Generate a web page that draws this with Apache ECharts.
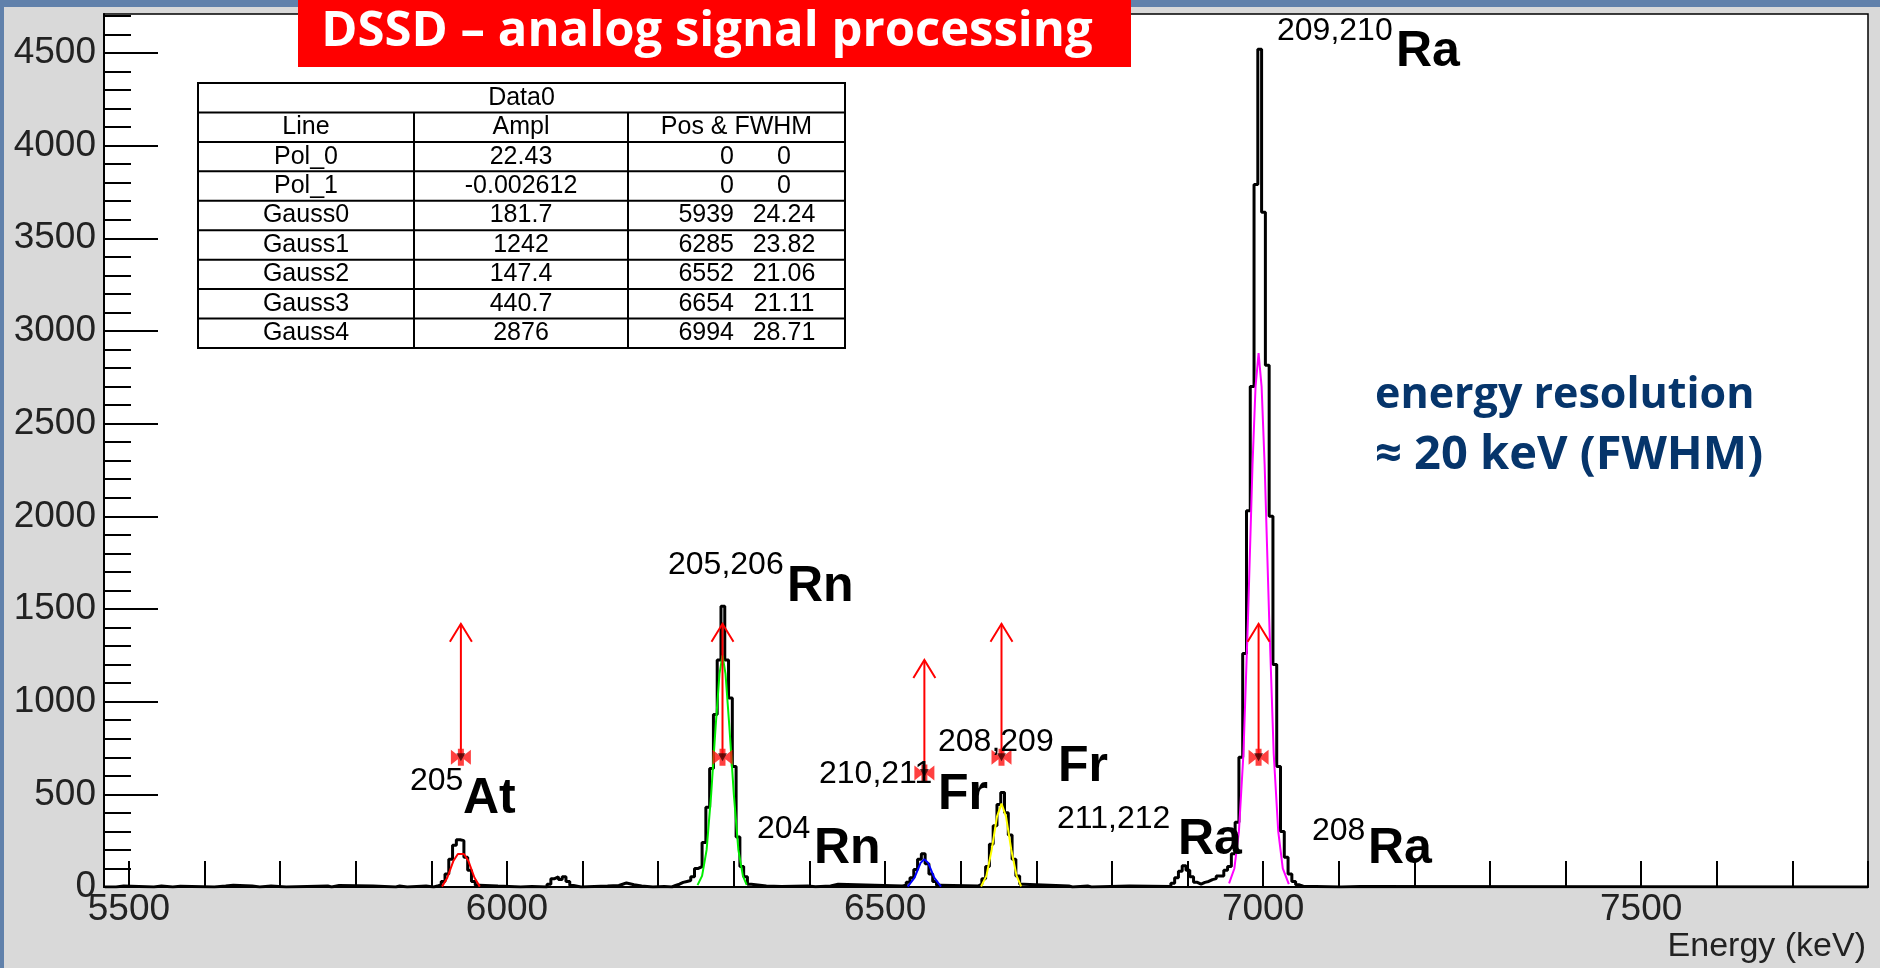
<!DOCTYPE html>
<html>
<head>
<meta charset="utf-8">
<title>DSSD – analog signal processing</title>
<script src="https://cdn.jsdelivr.net/npm/echarts@6.0.0/dist/echarts.min.js"></script>
<style>
  html, body { margin: 0; padding: 0; background: #d9d9d9; }
  #chart { width: 1880px; height: 968px; }
</style>
</head>
<body>
<div id="chart"></div>
<script>
// ---- measured spectrum (bin left edge in keV, counts per bin) ----
const histE = [
  5468, 5483, 5493, 5533, 5543, 5558, 5568, 5613, 5628, 5638, 5663, 5673, 5688,
  5708, 5763, 5768, 5778, 5823, 5853, 5858, 5868, 5893,
  5903, 5908, 5913, 5918, 5923, 5928, 5933, 5938, 5943, 5948, 5953, 5958, 5963, 5988,
  6018, 6033, 6053, 6058, 6063, 6068, 6073, 6078, 6083, 6088,
  6098, 6133, 6148, 6153, 6158, 6168, 6178, 6193, 6208,
  6218, 6223, 6228, 6233, 6238, 6243, 6248, 6253, 6258, 6263, 6268, 6273, 6278,
  6283, 6288, 6293, 6298, 6303, 6308, 6313, 6318, 6323,
  6343, 6363, 6398, 6408, 6428, 6438, 6523,
  6528, 6533, 6538, 6543, 6548, 6553, 6558, 6563, 6568, 6573,
  6623, 6628, 6633, 6638, 6643, 6648, 6653, 6658, 6663, 6668, 6673, 6678, 6683,
  6743, 6748, 6768, 6773, 6823,
  6878, 6883, 6888, 6893, 6898, 6903, 6908, 6913, 6918, 6923, 6928, 6933, 6938,
  6943, 6948, 6953, 6958, 6963, 6968, 6973, 6978, 6983, 6988, 6993, 6998, 7003,
  7008, 7013, 7018, 7023, 7028, 7033, 7038, 7043, 7048, 7053,
  7103, 7128, 7800
];
const histC = [
  0, 5, 0, 5, 0, 4, 0, 5, 10, 5, 0, 5, 0,
  5, 0, 8, 5, 0, 5, 0, 5, 0,
  5, 12, 30, 70, 150, 225, 255, 250, 160, 90, 30, 10, 5, 0,
  3, 0, 15, 45, 55, 40, 55, 30, 8, 0,
  5, 8, 15, 22, 12, 5, 0, 3, 0,
  8, 15, 25, 30, 35, 55, 100, 110, 240, 430, 640, 930, 1225,
  1515, 1225, 1020, 650, 270, 110, 55, 15, 5,
  3, 5, 2, 5, 15, 5, 10,
  25, 50, 95, 150, 180, 125, 70, 30, 10, 5,
  15, 45, 110, 230, 330, 445, 510, 400, 280, 150, 60, 15, 5,
  0, 5, 0, 5, 3,
  20, 50, 85, 115, 90, 55, 25, 15, 25, 30, 40, 45, 60,
  60, 90, 110, 180, 350, 700, 1260, 2030, 2700, 3790, 4520, 3640, 2815,
  2000, 1200, 650, 300, 160, 70, 30, 12, 4, 0,
  3, 0, 0
];

// ---- fitted peak curves (keV, counts) as drawn ----
const fitRed = [[5914, 2], [5921, 50], [5929, 140], [5935, 178], [5943, 178], [5949, 140], [5957, 50], [5964, 2]];
const fitGreen = [[6252, 10], [6258, 60], [6264, 200], [6270, 500], [6276, 870], [6281, 1150], [6285, 1250],
  [6289, 1150], [6294, 870], [6300, 500], [6306, 200], [6312, 60], [6317, 12]];
const fitBlue = [[6530, 2], [6539, 50], [6547, 130], [6552, 150], [6557, 130], [6565, 50], [6574, 2]];
const fitYellow = [[6627, 3], [6634, 60], [6641, 200], [6648, 380], [6654, 450], [6660, 380], [6667, 200], [6674, 60], [6680, 3]];
const fitMagenta = [[6955, 20], [6962, 100], [6968, 300], [6974, 720], [6980, 1450], [6986, 2280], [6990, 2700],
  [6994, 2880], [6998, 2700], [7002, 2280], [7008, 1450], [7014, 720], [7020, 300], [7026, 100], [7034, 15]];

// ---- peak markers: position, marker height, arrow tip ----
const arrowE = [5939, 6285, 6552, 6654, 6994];
const arrowBase = [700, 700, 615, 700, 700];
const arrowTip = [1420, 1420, 1225, 1420, 1420];

// ---- axis ticks ----
const xTickValues = [];
for (let v = 5500; v <= 7800; v += 100) xTickValues.push(v);
const xLabelValues = [5500, 6000, 6500, 7000, 7500];
const yMinorValues = [];
for (let v = 0; v <= 4700; v += 100) yMinorValues.push(v);
const yMajorValues = [0, 500, 1000, 1500, 2000, 2500, 3000, 3500, 4000, 4500];

// ---- fit result table ----
const tableLine = ['Pol_0', 'Pol_1', 'Gauss0', 'Gauss1', 'Gauss2', 'Gauss3', 'Gauss4'];
const tableAmpl = ['22.43', '-0.002612', '181.7', '1242', '147.4', '440.7', '2876'];
const tablePos = ['0', '0', '5939', '6285', '6552', '6654', '6994'];
const tableFwhm = ['0', '0', '24.24', '23.82', '21.06', '21.11', '28.71'];

// ---- isotope labels ----
const labelSup = ['205', '205,206', '204', '210,211', '208,209', '211,212', '208', '209,210'];
const labelEl = ['At', 'Rn', 'Rn', 'Fr', 'Fr', 'Ra', 'Ra', 'Ra'];
// layout: [sup left, sup baseline, element left, element baseline] in px
const labelLayout = [
  [410, 792, 463, 817], [668, 576, 787, 605], [757, 840, 814, 867], [819, 785, 938, 813],
  [938, 753, 1058, 785], [1057, 830, 1178, 858], [1312, 842, 1368, 867], [1277, 42, 1396, 70]
];

const chart = echarts.init(document.getElementById('chart'));

const FONT = '"Liberation Sans", Arial, Helvetica, sans-serif';
const graphics = [];

// slide background strips
graphics.push({ type: 'rect', z: 1, shape: { x: 0, y: 0, width: 1880, height: 7 }, style: { fill: '#6181ab' } });
graphics.push({ type: 'rect', z: 1, shape: { x: 0, y: 0, width: 4, height: 968 }, style: { fill: '#6181ab' } });

// title box
graphics.push({ type: 'rect', z: 120, shape: { x: 298, y: 0, width: 833, height: 67 }, style: { fill: '#ff0000' } });
graphics.push({
  type: 'text', z: 121, x: 707, y: 32,
  style: { text: 'DSSD – analog signal processing', fill: '#fff', font: 'bold 49px "Open Sans", sans-serif', align: 'center', verticalAlign: 'middle' }
});

// resolution note
graphics.push({
  type: 'text', z: 110, x: 1375, y: 413 - 17,
  style: { text: 'energy resolution', fill: '#06356b', font: 'bold 43px "Open Sans", sans-serif', align: 'left', verticalAlign: 'middle' }
});
graphics.push({
  type: 'text', z: 110, x: 1375, y: 474 - 18,
  style: { text: '≈ 20 keV (FWHM)', fill: '#06356b', font: 'bold 47px "Open Sans", sans-serif', align: 'left', verticalAlign: 'middle' }
});

// axis title
graphics.push({
  type: 'text', z: 110, x: 1866, y: 947,
  style: { text: 'Energy (keV)', fill: '#222', font: '34px ' + FONT, align: 'right', verticalAlign: 'middle' }
});

// fit table
const tX = 198, tY = 83, tW = 647, tH = 265, rowH = tH / 9;
const col1 = 414, col2 = 628;
graphics.push({ type: 'rect', z: 100, shape: { x: tX, y: tY, width: tW, height: tH }, style: { fill: '#fff', stroke: '#000', lineWidth: 2 } });
for (let i = 1; i < 9; i++) {
  graphics.push({ type: 'line', z: 101, shape: { x1: tX, y1: tY + i * rowH, x2: tX + tW, y2: tY + i * rowH }, style: { stroke: '#000', lineWidth: 2 } });
}
[col1, col2].forEach(cx => {
  graphics.push({ type: 'line', z: 101, shape: { x1: cx, y1: tY + rowH, x2: cx, y2: tY + tH }, style: { stroke: '#000', lineWidth: 2 } });
});
function cell(text, x, row, align) {
  graphics.push({
    type: 'text', z: 102, x: x, y: tY + rowH * (row + 0.5),
    style: { text: text, fill: '#000', font: '25px ' + FONT, align: align || 'center', verticalAlign: 'middle' }
  });
}
cell('Data0', tX + tW / 2, 0);
cell('Line', (tX + col1) / 2, 1);
cell('Ampl', (col1 + col2) / 2, 1);
cell('Pos & FWHM', (col2 + tX + tW) / 2, 1);
tableLine.forEach((name, i) => {
  cell(name, (tX + col1) / 2, i + 2);
  cell(tableAmpl[i], (col1 + col2) / 2, i + 2);
  cell(tablePos[i], 734, i + 2, 'right');
  cell(tableFwhm[i], 784, i + 2);
});

// isotope labels
labelSup.forEach((sup, i) => {
  const l = labelLayout[i];
  graphics.push({
    type: 'text', z: 90, x: l[0], y: l[1] - 0.35 * 32,
    style: { text: sup, fill: '#000', font: '32px ' + FONT, align: 'left', verticalAlign: 'middle' }
  });
  graphics.push({
    type: 'text', z: 90, x: l[2], y: l[3] - 0.35 * 50,
    style: { text: labelEl[i], fill: '#000', font: 'bold 50px ' + FONT, align: 'left', verticalAlign: 'middle' }
  });
});

function fitSeries(data, color) {
  return {
    type: 'line', data: data, symbol: 'none', z: 4,
    lineStyle: { color: color, width: 2 }, silent: true
  };
}

const plainNumber = v => String(v);

const option = {
  animation: false,
  backgroundColor: '#d9d9d9',
  grid: {
    left: 104, right: 12, top: 14, bottom: 81,
    show: true, backgroundColor: '#fff', borderColor: '#000', borderWidth: 1.5
  },
  xAxis: {
    type: 'value', min: 5467, max: 7800,
    axisLine: { onZero: false, lineStyle: { color: '#000', width: 2 } },
    axisTick: { inside: true, length: 26, customValues: xTickValues, lineStyle: { color: '#000', width: 2 } },
    axisLabel: { customValues: xLabelValues, formatter: plainNumber, fontFamily: FONT, fontSize: 37, color: '#222', margin: 4, lineHeight: 37 },
    splitLine: { show: false }
  },
  yAxis: [
    {
      type: 'value', min: 0, max: 4710, position: 'left',
      axisLine: { show: true, lineStyle: { color: '#000', width: 2 } },
      axisTick: { show: true, inside: true, length: 27, customValues: yMinorValues, lineStyle: { color: '#000', width: 2 } },
      axisLabel: { customValues: yMajorValues, formatter: plainNumber, fontFamily: FONT, fontSize: 37, color: '#222', margin: 8 },
      splitLine: { show: false }
    },
    {
      type: 'value', min: 0, max: 4710, position: 'left', offset: 0,
      axisLine: { show: false },
      axisTick: { show: true, inside: true, length: 54, customValues: yMajorValues, lineStyle: { color: '#000', width: 2 } },
      axisLabel: { show: false },
      splitLine: { show: false }
    }
  ],
  graphic: graphics,
  series: [
    {
      type: 'line', step: 'end', symbol: 'none', z: 3, silent: true,
      data: histE.map((e, i) => [e, histC[i]]),
      lineStyle: { color: '#000', width: 3 }
    },
    fitSeries(fitRed, '#ff0000'),
    fitSeries(fitGreen, '#00ee00'),
    fitSeries(fitBlue, '#0000ff'),
    fitSeries(fitYellow, '#ffff00'),
    fitSeries(fitMagenta, '#ff00ff'),
    {
      type: 'custom', z: 6, silent: true,
      data: arrowE.map((e, i) => [e, arrowBase[i], arrowTip[i]]),
      encode: { x: 0, y: [1, 2] },
      renderItem: function (params, api) {
        const base = api.coord([api.value(0), api.value(1)]);
        const tip = api.coord([api.value(0), api.value(2)]);
        return {
          type: 'group',
          children: [
            { type: 'line', shape: { x1: base[0], y1: base[1], x2: tip[0], y2: tip[1] }, style: { stroke: '#ff0000', lineWidth: 2 } },
            {
              type: 'polyline',
              shape: { points: [[tip[0] - 11, tip[1] + 18], [tip[0], tip[1]], [tip[0] + 11, tip[1] + 18]] },
              style: { stroke: '#ff0000', lineWidth: 2, fill: null }
            }
          ]
        };
      }
    },
    {
      type: 'scatter', z: 7, silent: true,
      data: arrowE.map((e, i) => [e, arrowBase[i]]),
      symbol: 'path://M-10,-8 L-3,-2 L-3,-9 L3,-9 L3,-2 L10,-8 L10,8 L3,2 L3,9 L-3,9 L-3,2 L-10,8 Z',
      symbolSize: [20, 17],
      itemStyle: { color: '#ff1010' }
    },
    {
      type: 'scatter', z: 8, silent: true,
      data: arrowE.map((e, i) => [e, arrowBase[i]]),
      symbol: 'triangle', symbolRotate: 180, symbolSize: [9, 8],
      itemStyle: { color: '#400000' }
    }
  ]
};

chart.setOption(option);
</script>
</body>
</html>
